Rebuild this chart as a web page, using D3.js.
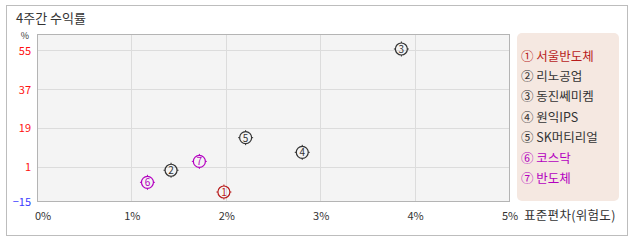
<!doctype html>
<html>
<head>
  <meta charset="UTF-8">
  <title>4주간 수익률</title>
  <script src="https://d3js.org/d3.v7.min.js"></script>
  <style>
    body { margin: 0; background: #fff; }
    text { font-family: "Noto Sans CJK KR", "DejaVu Sans", sans-serif; }
  </style>
</head>
<body>
<div id="svg_area"></div>
<script>
// chart data
var names = ["서울반도체", "리노공업", "동진쎄미켐", "원익IPS", "SK머티리얼", "코스닥", "반도체"];
var marks = ["①", "②", "③", "④", "⑤", "⑥", "⑦"];
var stdev = [1.98, 1.42, 3.86, 2.81, 2.21, 1.17, 1.72];   // x, %
var returns = [-10.7, -0.6, 55.6, 7.7, 14.5, -6.2, 3.5];  // y, %
var colors = ["#b81c1c", "#333333", "#333333", "#333333", "#333333", "#b400c0", "#b400c0"];
var yTicks = [-15, 1, 19, 37, 55];
var xTicks = [0, 1, 2, 3, 4, 5];

var W = 638, H = 242;
var plot = { left: 37, top: 34, right: 509, bottom: 201 };

var svg = d3.select("#svg_area").append("svg")
  .attr("width", W)
  .attr("height", H);

// outer frame
svg.append("rect")
  .attr("x", 6.5).attr("y", 5.5)
  .attr("width", 621).attr("height", 230)
  .attr("fill", "#fff")
  .attr("stroke", "#bdbdbd");

svg.append("text")
  .attr("x", 16).attr("y", 23)
  .attr("font-size", 13)
  .attr("fill", "#333")
  .text("4주간 수익률");

var xScale = d3.scaleLinear().domain([0, 5]).range([plot.left, plot.right]);
var yScale = d3.scaleLinear().domain([-15, 55]).range([201.3, 50.3]);

// plot background
svg.append("rect")
  .attr("x", plot.left + 0.5).attr("y", plot.top + 0.5)
  .attr("width", plot.right - plot.left).attr("height", plot.bottom - plot.top)
  .attr("fill", "#f4f4f4")
  .attr("stroke", "#b4b4b4");

// grid
svg.append("g").selectAll("line")
  .data(xTicks.slice(1, -1))
  .enter().append("line")
  .attr("x1", function (d) { return Math.round(xScale(d)) + 0.5; })
  .attr("x2", function (d) { return Math.round(xScale(d)) + 0.5; })
  .attr("y1", plot.top + 1).attr("y2", plot.bottom)
  .attr("stroke", "#dcdcdc");

svg.append("g").selectAll("line")
  .data(yTicks.slice(1))
  .enter().append("line")
  .attr("x1", plot.left + 1).attr("x2", plot.right)
  .attr("y1", function (d) { return Math.round(yScale(d)) + 0.5; })
  .attr("y2", function (d) { return Math.round(yScale(d)) + 0.5; })
  .attr("stroke", "#dcdcdc");

// y labels
svg.append("text")
  .attr("x", 25).attr("y", 39)
  .attr("text-anchor", "middle")
  .attr("font-size", 9)
  .attr("fill", "#333")
  .text("%");

svg.append("g").selectAll("text")
  .data(yTicks)
  .enter().append("text")
  .attr("x", 31)
  .attr("y", function (d) { return yScale(d) + 4.5; })
  .attr("text-anchor", "end")
  .attr("font-size", 11)
  .attr("fill", function (d) { return d < 0 ? "#3a3aff" : "#ff1010"; })
  .text(function (d) { return d < 0 ? "−" + Math.abs(d) : d; });

// x labels
svg.append("g").selectAll("text")
  .data(xTicks)
  .enter().append("text")
  .attr("x", function (d) { return d === 0 ? xScale(d) + 6 : xScale(d) + 1; })
  .attr("y", 220)
  .attr("text-anchor", "middle")
  .attr("font-size", 11)
  .attr("fill", "#333")
  .text(function (d) { return d + "%"; });

svg.append("text")
  .attr("x", 524).attr("y", 220)
  .attr("font-size", 12.5)
  .attr("letter-spacing", 0.3)
  .attr("fill", "#333")
  .text("표준편차(위험도)");

// points
var pts = svg.append("g").selectAll("g")
  .data(stdev)
  .enter().append("g")
  .attr("transform", function (d, i) {
    return "translate(" + xScale(d) + "," + yScale(returns[i]) + ")";
  });

pts.append("circle")
  .attr("r", 6)
  .attr("fill", "none")
  .attr("stroke", function (d, i) { return colors[i]; })
  .attr("stroke-width", 1.2);

pts.append("path")
  .attr("d", "M0,-7.5V-6M0,6V7.5M-7.5,0H-6M6,0H7.5")
  .attr("stroke", function (d, i) { return colors[i]; })
  .attr("stroke-width", 1);

pts.append("text")
  .attr("y", 4)
  .attr("text-anchor", "middle")
  .attr("font-size", 10)
  .attr("fill", function (d, i) { return colors[i]; })
  .text(function (d, i) { return i + 1; });

// legend
svg.append("rect")
  .attr("x", 517).attr("y", 33)
  .attr("width", 102).attr("height", 168)
  .attr("rx", 5)
  .attr("fill", "#f5e8e1");

svg.append("g").selectAll("text")
  .data(names)
  .enter().append("text")
  .attr("x", 521)
  .attr("y", function (d, i) { return 60.5 + i * 20.4; })
  .attr("font-size", 12.5)
  .attr("fill", function (d, i) { return colors[i]; })
  .text(function (d, i) { return marks[i] + " " + d; });
</script>
</body>
</html>
